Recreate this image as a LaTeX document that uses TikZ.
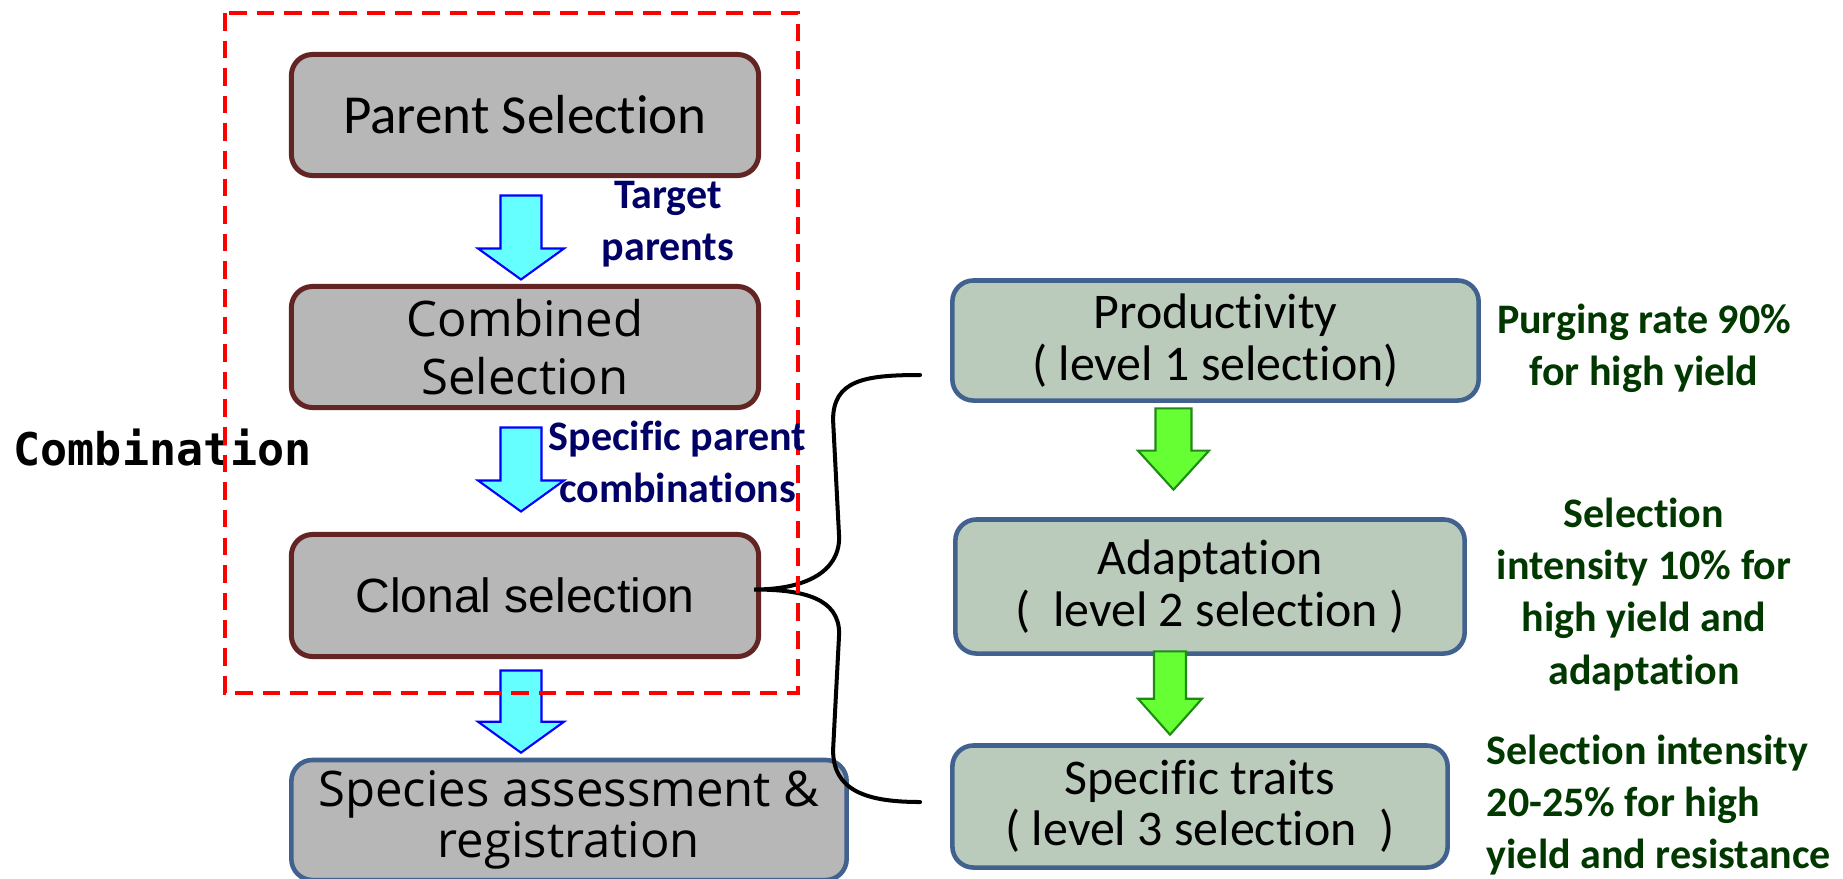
\documentclass[tikz,border=0pt]{standalone}
\usepackage{fontspec}
\usetikzlibrary{calc}
\newfontfamily\calfont[RawFeature={-liga;-clig;-calt;-dlig}]{Carlito}
\newfontfamily\sgfont{Open Sans}
\newfontfamily\arfont{Liberation Sans}
\newfontfamily\hzfont{DejaVu Sans Mono}

\definecolor{grayfill}{RGB}{183,183,183}
\definecolor{brownline}{RGB}{99,37,35}
\definecolor{blueline}{RGB}{65,98,143}
\definecolor{sagefill}{RGB}{186,202,187}
\definecolor{cyanfill}{RGB}{102,255,255}
\definecolor{limefill}{RGB}{102,255,51}
\definecolor{limeline}{RGB}{30,140,20}
\definecolor{navytext}{RGB}{0,0,102}
\definecolor{ratetext}{RGB}{0,56,0}

% block arrow pointing down: style, top point, tip point, shaft half, head half, head length
\def\blockdown[#1](#2)(#3)#4#5#6{\draw[#1] ($(#2)+(-#4,0)$) -- ($(#2)+(#4,0)$) -- ($(#3)+(#4,-#6)$) -- ($(#3)+(#5,-#6)$) -- (#3) -- ($(#3)+(-#5,-#6)$) -- ($(#3)+(-#4,-#6)$) -- cycle;}

\tikzset{
  stagebox/.style={draw=brownline, line width=1.42pt, fill=grayfill, rounded corners=6pt, inner sep=0pt, align=center},
  finalbox/.style={stagebox, draw=blueline, line width=1.3pt},
  levelbox/.style={draw=blueline, line width=1.3pt, fill=sagefill, rounded corners=6pt, inner sep=0pt, align=center,
    font=\calfont\fontsize{14.2pt}{14.6pt}\selectfont},
  flownote/.style={inner sep=0pt, align=center, text=navytext, font=\calfont\bfseries\fontsize{11.95pt}{14.8pt}\selectfont},
  ratenote/.style={flownote, text=ratetext},
  cyanarrow/.style={fill=cyanfill, draw=blue, line width=0.6pt},
  limearrow/.style={fill=limefill, draw=limeline, line width=0.6pt},
  brace/.style={line width=1.14pt, line cap=round},
  zone/.style={draw=red, line width=1.14pt, dash pattern=on 5pt off 2.85pt}
}

\begin{document}
\begin{tikzpicture}[x=0.01cm,y=-0.01cm]
  \useasboundingbox (0,0) rectangle (1843,878);
  \clip (0,0) rectangle (1843,878);

  % combination stages
  \node[stagebox, minimum width=4.67cm, minimum height=1.21cm, font=\calfont\fontsize{15.65pt}{18pt}\selectfont]
    (parent) at (525,115) {Parent Selection};
  \node[stagebox, minimum width=4.67cm, minimum height=1.21cm, font=\sgfont\fontsize{13.94pt}{16.5pt}\selectfont]
    (combined) at (525,347) {Combined\\Selection};
  \node[stagebox, minimum width=4.67cm, minimum height=1.22cm, font=\arfont\fontsize{13.66pt}{16pt}\selectfont]
    (clonal) at (525,595.5) {Clonal selection};
  \node[finalbox, minimum width=5.55cm, minimum height=1.20cm, font=\sgfont\fontsize{13.94pt}{12.8pt}\selectfont]
    (species) at (569,820) {Species assessment \&\\registration};

  \node[anchor=base west, inner sep=0pt, font=\hzfont\bfseries\fontsize{12.8pt}{15pt}\selectfont]
    (combo) at (13,465) {Combination};

  % selection levels
  \node[levelbox, minimum width=5.26cm, minimum height=1.20cm] (productivity) at (1215.5,340.5)
    {Productivity\\( level 1 selection)};
  \node[levelbox, minimum width=5.09cm, minimum height=1.34cm] (adaptation) at (1210,586.5)
    {Adaptation\\(\ \ level 2 selection )};
  \node[levelbox, minimum width=4.95cm, minimum height=1.22cm] (traits) at (1200,806.5)
    {Specific traits\\( level 3 selection\ \ )};

  % arrows
  \coordinate (c1a) at ($(parent.south)+(-4,17.5)$);
  \coordinate (c1b) at ($(combined.north)+(-4,-4.5)$);
  \coordinate (c2a) at ($(combined.south)+(-4,17.5)$);
  \coordinate (c2b) at ($(clonal.north)+(-4,-20.5)$);
  \coordinate (c3a) at ($(clonal.south)+(-4,11.5)$);
  \coordinate (c3b) at ($(species.north -| clonal.south)+(-4,-5)$);
  \blockdown[cyanarrow](c1a)(c1b){20.5}{43}{31}
  \blockdown[cyanarrow](c2a)(c2b){20.5}{43}{31}
  \blockdown[cyanarrow](c3a)(c3b){20.5}{43}{31}

  \coordinate (g1a) at ($(productivity.south)+(-42,5.5)$);
  \coordinate (g1b) at ($(adaptation.north -| g1a)+(0,-27.5)$);
  \coordinate (g2a) at ($(adaptation.south)+(-40,-4.5)$);
  \coordinate (g2b) at ($(traits.north -| g2a)+(0,-8.5)$);
  \blockdown[limearrow](g1a)(g1b){18}{35.5}{39}
  \blockdown[limearrow](g2a)(g2b){16}{32}{36}

  % brace from clonal selection to levels
  \coordinate (brtip) at ($(clonal.east)+(-7,-6)$);
  \coordinate (brtop) at ($(productivity.west)+(-30,34.5)$);
  \coordinate (brbot) at ($(traits.west)+(-30,-4.5)$);
  \draw[brace] (brtop) .. controls +(-55,0) and +(0,-40) .. ($(brtop)+(-87,45)$)
    -- ($(brtip)+(85,-52)$) .. controls +(0,35) and +(50,0) .. (brtip)
    .. controls +(50,0) and +(0,-35) .. ($(brtip)+(85,44)$)
    -- ($(brbot)+(-87,-52)$) .. controls +(0,40) and +(-55,0) .. (brbot);

  \draw[zone] (225,13) rectangle (798,693);

  % notes
  \node[flownote] (targetnote) at (668,224.5) {Target\\parents};
  \node[flownote] (combnote) at (677.5,461.5) {Specific parent\\combinations};
  \node[ratenote] (rate1) at (1644,348) {Purging rate 90\%\\for high yield};
  \node[ratenote] (rate2) at (1644,594.5) {Selection\\intensity 10\% for\\high yield and\\adaptation};
  \node[ratenote, anchor=west, align=left] (rate3) at (1486,805)
    {Selection intensity\\20-25\% for high\\yield and resistance};
\end{tikzpicture}
\end{document}
